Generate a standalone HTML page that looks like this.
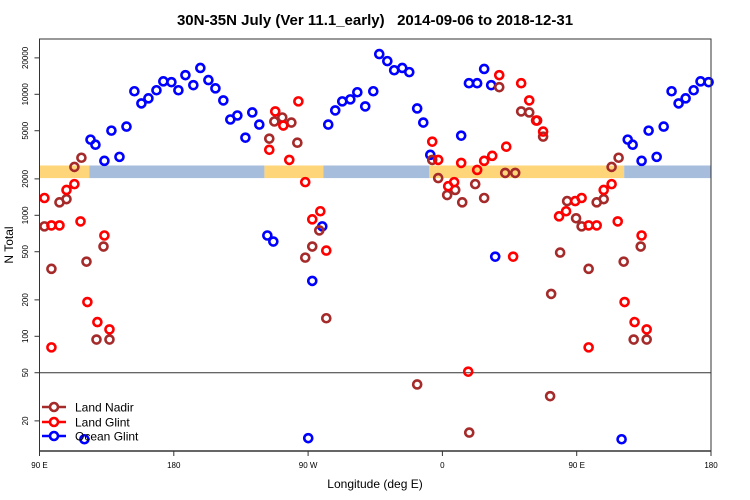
<!DOCTYPE html>
<html><head><meta charset="utf-8"><style>
html,body{margin:0;padding:0;background:#fff;}
svg{display:block;font-family:"Liberation Sans",Arial,sans-serif;}
</style></head><body>
<svg id="chart" width="750" height="500" viewBox="0 0 750 500" xmlns="http://www.w3.org/2000/svg">
<text x="375" y="25" text-anchor="middle" font-size="15" font-weight="bold" style="white-space:pre" xml:space="preserve">30N-35N July (Ver 11.1_early)   2014-09-06 to 2018-12-31</text>
<text x="375" y="488" text-anchor="middle" font-size="12">Longitude (deg E)</text>
<text x="0" y="0" transform="translate(13,245) rotate(-90)" text-anchor="middle" font-size="12">N Total</text>
<g id="band"></g>
<line x1="39.5" x2="711" y1="372.7" y2="372.7" stroke="#333" stroke-width="1"/>
<g id="marks"></g>
<rect x="39.5" y="39" width="671.5" height="412" fill="none" stroke="#333" stroke-width="1"/>
<g id="axes"></g>
<g id="legend"></g>
</svg>
<script>
const xTickLons = [90, 180, 270, 360, 450, 540];
const xTickLabels = ["90 E", "180", "90 W", "0", "90 E", "180"];
const yTickValues = [20, 50, 100, 200, 500, 1000, 2000, 5000, 10000, 20000];
const yTickLabels = ["20", "50", "100", "200", "500", "1000", "2000", "5000", "10000", "20000"];

const bandYellowRanges = [[90,123.5],[240.7,280.2],[351.2,481.8]];
const bandBlueRanges = [[123.5,240.7],[280.2,351.2],[481.8,540]];
const bandLow = 2030, bandHigh = 2580;

const oceanLon = [124.2,127.5,133.5,138.2,143.6,148.3,153.6,158.3,163,168.4,173,178.4,183.1,187.8,193.1,197.8,203.2,207.9,213.2,217.9,222.6,228,232.6,237.3,242.7,246.7,270.1,272.8,279.5,283.5,288.2,292.9,298.3,303,308.3,313.7,317.7,323.1,327.7,333.1,337.8,343.1,347.2,351.9,372.6,377.8,383.3,388,392.7,395.4,120.1];
const oceanVal = [4220,3830,2820,5010,3040,5410,10600,8410,9260,10800,12800,12600,10800,14400,11900,16500,13100,11200,8900,6190,6680,4380,7080,5620,681,607,14.4,287,810,5620,7360,8740,9080,10400,7940,10600,21500,18800,15800,16500,15250,7640,5840,3160,4550,12350,12350,16200,11900,455,14.1];

const glintLon = [93.3,98,103.4,108.1,113.4,117.5,133.5,122.1,128.8,136.9,98,248,253.4,263.5,244,257.4,268.1,272.8,278.2,282.2,353.2,357.2,372.6,383.3,388,393.4,402.8,427.5,422.8,367.9,363.9,407.4,438.2,442.9,449,398.1,412.8,418.2,377.3];
const glintVal = [1390,825,825,1620,1810,890,681,192,131,114,81,7220,5520,8740,3480,2870,1880,926,1080,511,4060,2870,2710,2370,2820,3100,3690,4920,6070,1880,1740,455,980,1080,1310,14400,12350,8900,51];

const nadirLon = [93.3,103.4,108.1,113.4,118.1,98,121.5,132.9,128.2,136.9,247.4,252.7,258.8,244,262.8,277.5,272.8,268.1,282.2,353.2,357.2,368.6,363.2,373.3,382,388,402.1,408.8,427.5,398.1,412.8,418.2,423.5,443.6,449.6,438.9,432.9,343.1,378,432.2];
const nadirVal = [810,1280,1360,2510,2990,361,414,552,94,94,5960,6430,5840,4300,3980,750,552,447,141,2870,2030,1620,1470,1280,1810,1390,2240,2240,4470,11450,7220,7080,6070,1310,945,492,224,40,16,32];

const NS = "http://www.w3.org/2000/svg";
function xs(lon){ return 39.5 + (lon - 90) * (671.5 / 450); }
function ys(v){ return 94.3 + 121 * (4 - Math.log10(v)); }
function mk(tag, attrs, parent){ const e = document.createElementNS(NS, tag); for (const k in attrs) e.setAttribute(k, attrs[k]); parent.appendChild(e); return e; }

const band = document.getElementById('band');
bandYellowRanges.forEach(r => {
  const e = mk('rect', {x: xs(r[0]), y: ys(bandHigh), width: xs(r[1]) - xs(r[0]), height: ys(bandLow) - ys(bandHigh), fill: '#fed679'}, band);
  
  
});
bandBlueRanges.forEach(r => {
  const e = mk('rect', {x: xs(r[0]), y: ys(bandHigh), width: xs(r[1]) - xs(r[0]), height: ys(bandLow) - ys(bandHigh), fill: '#a6bddb'}, band);
  
  
});

const marks = document.getElementById('marks');
function drawSeries(lons, vals, color, name){
  const g = mk('g', {}, marks);
  
  
  lons.forEach((lon, i) => {
    [lon, lon + 360].forEach(L => {
      if (L > 540) return;
      const c = mk('circle', {cx: xs(L), cy: ys(vals[i]), r: 4, fill: 'none', stroke: color, 'stroke-width': 2.6}, g);
      
      
    });
  });
}
drawSeries(oceanLon, oceanVal, '#0000ff', 'ocean-glint');
drawSeries(nadirLon, nadirVal, '#a52a2a', 'land-nadir');
drawSeries(glintLon, glintVal, '#ff0000', 'land-glint');

const axes = document.getElementById('axes');
const xl = mk('line', {x1: 39.5, x2: 711, y1: 451, y2: 451, stroke: '#333', 'stroke-width': 1.5}, axes);


xTickLons.forEach((lon, i) => {
  const t = mk('line', {x1: xs(lon), x2: xs(lon), y1: 451, y2: 456, stroke: '#333'}, axes);
  
  
  const l = mk('text', {x: xs(lon), y: 468, 'text-anchor': 'middle', 'font-size': 8}, axes);
  l.textContent = xTickLabels[i];
  
  
});
yTickValues.forEach((v, i) => {
  const y = ys(v);
  const t = mk('line', {x1: 34.5, x2: 39.5, y1: y, y2: y, stroke: '#333'}, axes);
  
  
  const l = mk('text', {x: 0, y: 0, transform: 'translate(28,' + y + ') rotate(-90)', 'text-anchor': 'middle', 'font-size': 8}, axes);
  l.textContent = yTickLabels[i];
  
  
});

const legend = document.getElementById('legend');
const legItems = [['Land Nadir', '#a52a2a', 407], ['Land Glint', '#ff0000', 422], ['Ocean Glint', '#0000ff', 436]];
legItems.forEach(it => {
  const g = mk('g', {}, legend);
  
  
  mk('line', {x1: 42, x2: 66, y1: it[2], y2: it[2], stroke: it[1], 'stroke-width': 2.6}, g);
  mk('circle', {cx: 54, cy: it[2], r: 4, fill: '#fff', stroke: it[1], 'stroke-width': 2.6}, g);
  const t = mk('text', {x: 75, y: it[2] + 4.5, 'font-size': 12}, g);
  t.textContent = it[0];
});
</script>
</body></html>
